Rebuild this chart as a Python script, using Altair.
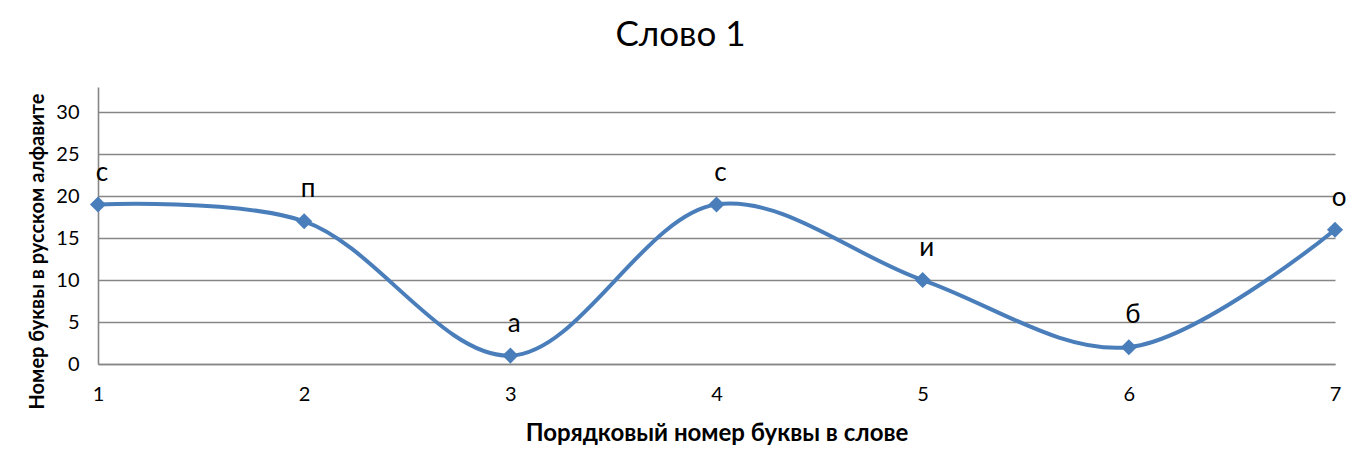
import altair as alt
import pandas as pd

positions = [1, 2, 3, 4, 5, 6, 7]
letter_numbers = [19, 17, 1, 19, 10, 2, 16]
letters = ["с", "п", "а", "с", "и", "б", "о"]
y_ticks = [0, 5, 10, 15, 20, 25, 30]

df = pd.DataFrame({"pos": positions, "num": letter_numbers, "letter": letters})

FONT = "Lato"
BLUE = "#4A7EBB"
GRID = "#868686"

x = alt.X(
    "pos:Q",
    scale=alt.Scale(domain=[1, 7], nice=False, zero=False),
    axis=alt.Axis(
        values=positions,
        format="d",
        title="Порядковый номер буквы в слове",
        titleFont=FONT,
        titleFontSize=24,
        titleFontWeight="bold",
        titleColor="black",
        titlePadding=17,
        labelFont=FONT,
        labelFontSize=20,
        labelColor="black",
        labelPadding=20,
        labelFlush=False,
        ticks=False,
        grid=False,
        domain=True,
        domainColor=GRID,
        domainWidth=1.6,
    ),
)
y = alt.Y(
    "num:Q",
    scale=alt.Scale(domain=[0, 33], nice=False),
    axis=alt.Axis(
        values=y_ticks,
        title="Номер буквы в русском алфавите",
        titleFont=FONT,
        titleFontSize=20,
        titleFontWeight="bold",
        titleColor="black",
        titleAngle=-90,
        titleX=-61,
        titleY=164,
        titleAlign="center",
        titleBaseline="middle",
        labelFont=FONT,
        labelFontSize=20,
        labelColor="black",
        labelPadding=19,
        ticks=False,
        grid=True,
        gridColor=GRID,
        gridWidth=1.6,
        domain=True,
        domainColor=GRID,
        domainWidth=1.6,
    ),
)

base = alt.Chart(df)

line = base.mark_line(
    interpolate="catmull-rom", color=BLUE, strokeWidth=4
).encode(x=x, y=y)

points = base.mark_point(
    shape="diamond", filled=True, size=260, color=BLUE, opacity=1
).encode(x="pos:Q", y="num:Q")

labels = base.mark_text(
    font=FONT, fontSize=26, color="black", dx=4, dy=-32
).encode(x="pos:Q", y="num:Q", text="letter:N")

chart = (
    alt.layer(line, points, labels)
    .properties(
        width=1237,
        height=277,
        background="white",
        title=alt.TitleParams(
            "Слово 1",
            font=FONT,
            fontSize=35,
            fontWeight="normal",
            color="black",
            anchor="middle",
            dx=-36,
            offset=34,
        ),
        autosize=alt.AutoSizeParams(type="none"),
        padding={"left": 90, "top": 79, "right": 14, "bottom": 85},
    )
    .configure_view(strokeWidth=0, stroke="transparent")
)

chart.save("out.html", embed_options={"renderer": "svg", "actions": False})
